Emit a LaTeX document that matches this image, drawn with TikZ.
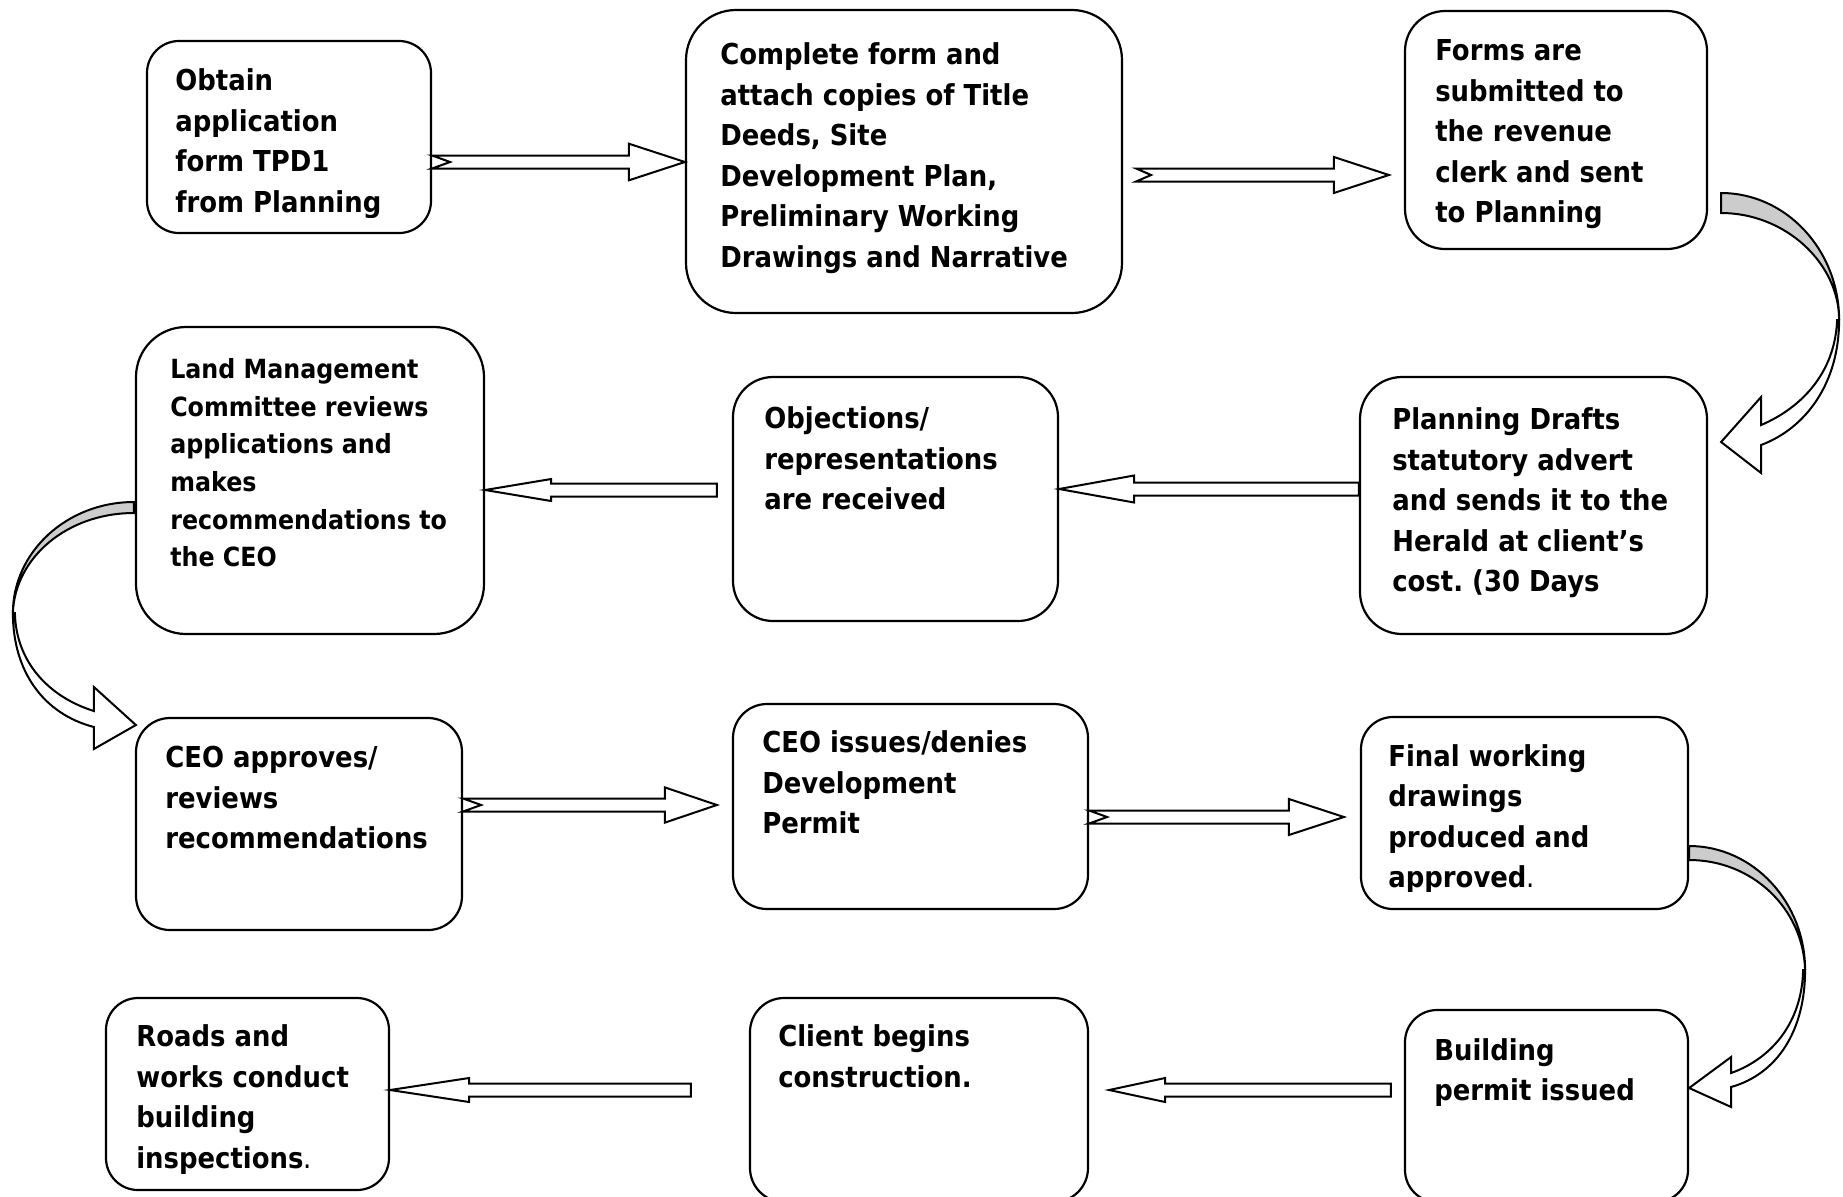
\documentclass[tikz,border=0pt]{standalone}
\usepackage{fontspec}
\setmainfont{DejaVu Sans}[FakeStretch=0.9]
\usetikzlibrary{calc,fit}

% hollow block arrow: tail, tip, shaft half, head half, head length, notch
\newcommand\blkarrow[6]{%
\draw[blk] let \p1=(#1), \p2=(#2), \n1={sign(\x2-\x1)} in
 (\x1,\y1+#3) -- (\x2-\n1*#5,\y1+#3) -- (\x2-\n1*#5,\y1+#4) -- (\x2,\y1)
 -- (\x2-\n1*#5,\y1-#4) -- (\x2-\n1*#5,\y1-#3) -- (\x1,\y1-#3) -- (\x1+\n1*#6,\y1) -- cycle;}

\begin{document}
\begin{tikzpicture}[x=0.5pt,y=-0.5pt,line join=miter,
box/.style={draw,line width=1.1pt,inner sep=0pt,rounded corners=#1},box/.default=16pt,
txt/.style={anchor=base west,align=left,inner sep=0pt,font=\fontsize{14.4}{20.25}\selectfont\bfseries\frenchspacing},
smalltxt/.style={txt,font=\fontsize{13.2}{18.85}\selectfont\bfseries},
blk/.style={draw,line width=1pt,fill=white},
curv/.style={draw,line width=1pt}]
\useasboundingbox[fill=white] (0,0) rectangle (1843,1196);
% boxes
\node[box=16pt,fit={(147,41)(431,233)}](b1){};
\node[box=25pt,fit={(686,10)(1122,313)}](b2){};
\node[box=20pt,fit={(1405,11)(1707,249)}](b3){};
\node[box=21pt,fit={(1360,377)(1707,634)}](b4){};
\node[box=20pt,fit={(733,377)(1058,621)}](b5){};
\node[box=25pt,fit={(136,327)(484,634)}](b6){};
\node[box=17pt,fit={(136,718)(462,930)}](b7){};
\node[box=17pt,fit={(733,704)(1088,909)}](b8){};
\node[box=16pt,fit={(1361,717)(1688,909)}](b9){};
\node[box=16pt,fit={(1405,1010)(1688,1202)}](b10){};
\node[box=17pt,fit={(750,998)(1088,1202)}](b11){};
\node[box=16pt,fit={(106,998)(389,1190)}](b12){};
% texts (anchored at the baseline of the last line)
\begin{scope}
\clip (b1.north west) rectangle (b1.east |- 0,217);
\node[txt](t1) at ([shift={(29,172.5)}]b1.north west){Obtain\\application\\form TPD1\\from Planning};
\end{scope}
\node[txt](t2) at ([shift={(35,258.5)}]b2.north west){Complete form and\\attach copies of Title\\Deeds, Site\\Development Plan,\\Preliminary Working\\Drawings and Narrative};
\node[txt](t3) at ([shift={(31,213)}]b3.north west){Forms are\\submitted to\\the revenue\\clerk and sent\\to Planning};
\node[txt](t4) at ([shift={(33,216)}]b4.north west){Planning Drafts\\statutory advert\\and sends it to the\\Herald at client’s\\cost. (30 Days};
\node[txt](t5) at ([shift={(32,134)}]b5.north west){Objections/\\representations\\are received};
\node[smalltxt](t6) at ([shift={(35,241)}]b6.north west){Land Management\\Committee reviews\\applications and\\makes\\recommendations to\\the CEO};
\node[txt](t7) at ([shift={(30,132)}]b7.north west){CEO approves/\\reviews\\recommendations};
\node[txt](t8) at ([shift={(30,131)}]b8.north west){CEO issues/denies\\Development\\Permit};
\begin{scope}
\clip (b9.north west) rectangle (b9.east |- 0,891);
\node[txt](t9) at ([shift={(28,172)}]b9.north west){Final working\\drawings\\produced and\\approved{\mdseries.}};
\end{scope}
\node[txt](t10) at ([shift={(30,92)}]b10.north west){Building\\permit issued};
\node[txt](t11) at ([shift={(29,90.5)}]b11.north west){Client begins\\construction.};
\begin{scope}
\clip (b12.north west) rectangle (b12.east |- 0,1174);
\node[txt](t12) at ([shift={(31,171.5)}]b12.north west){Roads and\\works conduct\\building\\inspections{\mdseries.}};
\end{scope}
% straight arrows
\blkarrow{b1.east |- 0,162}{b2.west |- 0,162}{3.25pt}{9.15pt}{28pt}{9pt}
\blkarrow{$(b2.east |- 0,175)+(13,0)$}{$(b3.west |- 0,175)+(-15,0)$}{3.25pt}{9pt}{27.5pt}{7.5pt}
\blkarrow{b4.west |- 0,489}{b5.east |- 0,489}{3.25pt}{6.75pt}{37.5pt}{0pt}
\blkarrow{$(b5.west |- 0,490)+(-15,0)$}{b6.east |- 0,490}{3.25pt}{5.5pt}{33pt}{0pt}
\blkarrow{b7.east |- 0,805}{$(b8.west |- 0,805)+(-15,0)$}{3.25pt}{8.8pt}{26pt}{9pt}
\blkarrow{b8.east |- 0,817}{$(b9.west |- 0,817)+(-16,0)$}{3.25pt}{9pt}{27.5pt}{9pt}
\blkarrow{$(b10.west |- 0,1090)+(-13,0)$}{$(b11.east |- 0,1090)+(20,0)$}{3.25pt}{6pt}{28pt}{0pt}
\blkarrow{$(b11.west |- 0,1090)+(-58,0)$}{b12.east |- 0,1090}{3.25pt}{6pt}{39.5pt}{0pt}
% curved arrows
\begin{scope}[shift={($(b3.east)+(13,63)$)}]
\draw[curv,fill=black!20] (0,0) .. controls (65,0) and (118,57) .. (118,127) .. controls (118,70) and (64,20) .. (0,20) -- cycle;
\draw[curv,fill=white] (118,127) .. controls (118,190) and (85,235) .. (40,252) -- (40,280) -- (0,249) -- (40,204) -- (40,232) .. controls (80,215) and (114,180) .. (116,127) -- cycle;
\end{scope}
\begin{scope}[shift={($(b6.west)+(-1,21.5)$)},xscale=-1]
\draw[curv,fill=black!20] (0,0) .. controls (67,0) and (121,50) .. (121,111) .. controls (119,55) and (66,11) .. (0,11) -- cycle;
\draw[curv,fill=white] (121,111) .. controls (121,170) and (90,212) .. (40,225) -- (40,247) -- (-2,223) -- (40,185) -- (40,209) .. controls (85,195) and (118,160) .. (119,111) -- cycle;
\end{scope}
\begin{scope}[shift={($(b9.east)+(0,33)$)}]
\draw[curv,fill=black!20] (0,0) .. controls (64,0) and (116,56) .. (116,124) .. controls (114,62) and (63,14) .. (0,14) -- cycle;
\draw[curv,fill=white] (116,124) .. controls (116,185) and (88,228) .. (42,241) -- (42,261) -- (0,242) -- (42,211) -- (42,227) .. controls (84,212) and (113,175) .. (114,124) -- cycle;
\end{scope}
\end{tikzpicture}
\end{document}
